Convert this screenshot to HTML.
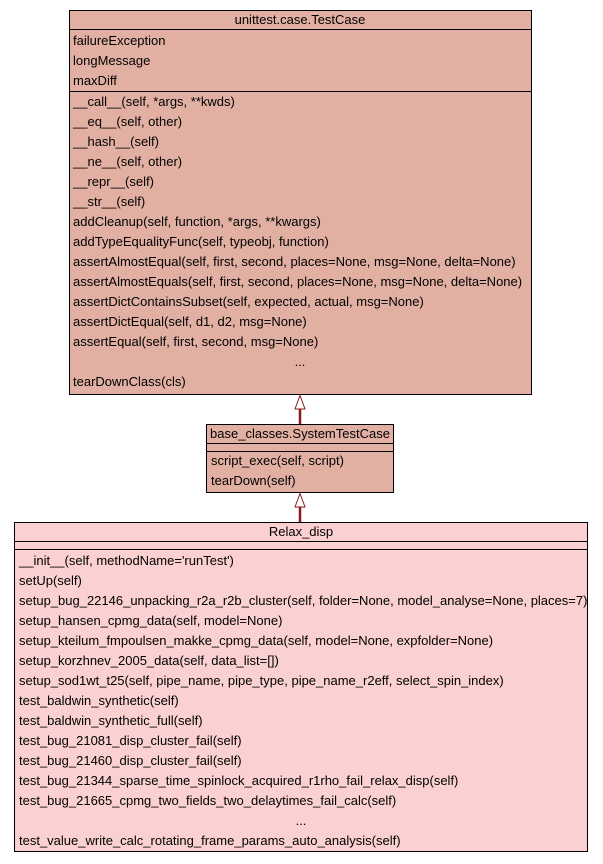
<!DOCTYPE html>
<html><head><meta charset="utf-8"><style>
html,body{margin:0;padding:0;background:#fff;width:603px;height:864px;overflow:hidden}
svg{display:block}
text{font-family:"Liberation Sans",Arial,sans-serif;font-size:13px;fill:#000}
</style></head><body>
<svg width="603" height="864" viewBox="0 0 603 864" xmlns="http://www.w3.org/2000/svg">
<rect x="69.5" y="10.5" width="462" height="384" fill="#e2b0a3" stroke="#000"/>
<line x1="69.5" y1="29.5" x2="531.5" y2="29.5" stroke="#000"/>
<line x1="69.5" y1="91.5" x2="531.5" y2="91.5" stroke="#000"/>
<text x="300" y="24" text-anchor="middle">unittest.case.TestCase</text>
<text x="73" y="45">failureException</text>
<text x="73" y="65">longMessage</text>
<text x="73" y="85">maxDiff</text>
<text x="73" y="106">__call__(self, *args, **kwds)</text>
<text x="73" y="126">__eq__(self, other)</text>
<text x="73" y="146">__hash__(self)</text>
<text x="73" y="166">__ne__(self, other)</text>
<text x="73" y="186">__repr__(self)</text>
<text x="73" y="206">__str__(self)</text>
<text x="73" y="226">addCleanup(self, function, *args, **kwargs)</text>
<text x="73" y="246">addTypeEqualityFunc(self, typeobj, function)</text>
<text x="73" y="266">assertAlmostEqual(self, first, second, places=None, msg=None, delta=None)</text>
<text x="73" y="286">assertAlmostEquals(self, first, second, places=None, msg=None, delta=None)</text>
<text x="73" y="306">assertDictContainsSubset(self, expected, actual, msg=None)</text>
<text x="73" y="326">assertDictEqual(self, d1, d2, msg=None)</text>
<text x="73" y="346">assertEqual(self, first, second, msg=None)</text>
<text x="300" y="366" text-anchor="middle">...</text>
<text x="73" y="386">tearDownClass(cls)</text>

<line x1="300" y1="409" x2="300" y2="424" stroke="#8b1a1a" stroke-width="2.5"/>
<polygon points="300,395.5 295,409 305,409" fill="#fff" stroke="#8b1a1a" stroke-width="1"/>

<rect x="206.5" y="424.5" width="187" height="68" fill="#e2b0a3" stroke="#000"/>
<line x1="206.5" y1="443.5" x2="393.5" y2="443.5" stroke="#000"/>
<line x1="206.5" y1="451.5" x2="393.5" y2="451.5" stroke="#000"/>
<text x="300" y="438" text-anchor="middle">base_classes.SystemTestCase</text>
<text x="211" y="465">script_exec(self, script)</text>
<text x="211" y="485">tearDown(self)</text>

<line x1="300" y1="507" x2="300" y2="522" stroke="#8b1a1a" stroke-width="2.5"/>
<polygon points="300,493.5 295,507 305,507" fill="#fff" stroke="#8b1a1a" stroke-width="1"/>

<rect x="14.5" y="522.5" width="573" height="329" fill="#fad0d0" stroke="#000"/>
<line x1="14.5" y1="541.5" x2="587.5" y2="541.5" stroke="#000"/>
<line x1="14.5" y1="549.5" x2="587.5" y2="549.5" stroke="#000"/>
<text x="301" y="536" text-anchor="middle">Relax_disp</text>
<text x="19" y="565">__init__(self, methodName='runTest')</text>
<text x="19" y="585">setUp(self)</text>
<text x="19" y="605">setup_bug_22146_unpacking_r2a_r2b_cluster(self, folder=None, model_analyse=None, places=7)</text>
<text x="19" y="625">setup_hansen_cpmg_data(self, model=None)</text>
<text x="19" y="645">setup_kteilum_fmpoulsen_makke_cpmg_data(self, model=None, expfolder=None)</text>
<text x="19" y="665">setup_korzhnev_2005_data(self, data_list=[])</text>
<text x="19" y="685">setup_sod1wt_t25(self, pipe_name, pipe_type, pipe_name_r2eff, select_spin_index)</text>
<text x="19" y="705">test_baldwin_synthetic(self)</text>
<text x="19" y="725">test_baldwin_synthetic_full(self)</text>
<text x="19" y="745">test_bug_21081_disp_cluster_fail(self)</text>
<text x="19" y="765">test_bug_21460_disp_cluster_fail(self)</text>
<text x="19" y="785">test_bug_21344_sparse_time_spinlock_acquired_r1rho_fail_relax_disp(self)</text>
<text x="19" y="805">test_bug_21665_cpmg_two_fields_two_delaytimes_fail_calc(self)</text>
<text x="301" y="825" text-anchor="middle">...</text>
<text x="19" y="845">test_value_write_calc_rotating_frame_params_auto_analysis(self)</text>
</svg>
</body></html>
